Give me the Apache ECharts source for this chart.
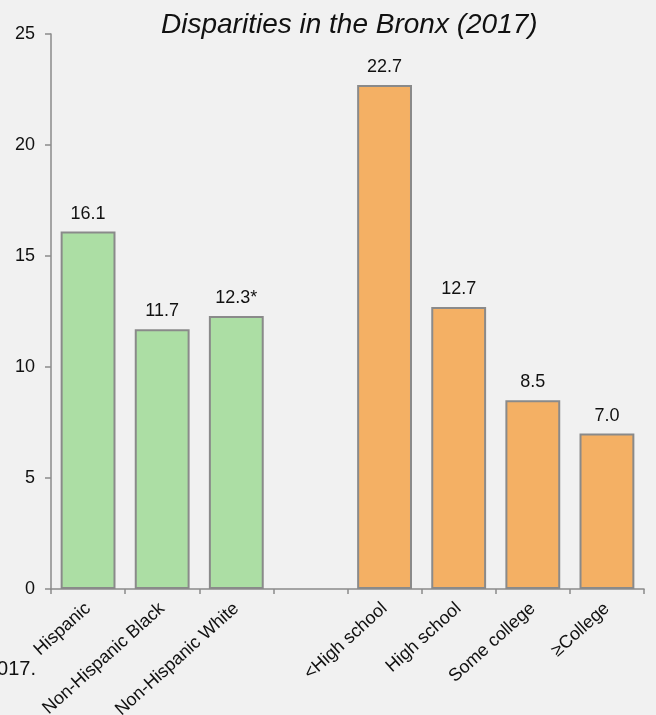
<!DOCTYPE html>
<html>
<head>
<meta charset="utf-8">
<script src="https://cdn.jsdelivr.net/npm/echarts@6/dist/echarts.min.js"></script>
<style>
html,body{margin:0;padding:0;background:#f1f1f1;}
#c{width:656px;height:715px;}
</style>
</head>
<body>
<div id="c"></div>
<script>
const categories = ['Hispanic', 'Non-Hispanic Black', 'Non-Hispanic White', '', '<High school', 'High school', 'Some college', '\u2265College'];
const values = [16.1, 11.7, 12.3, null, 22.7, 12.7, 8.5, 7.0];
const valueLabels = ['16.1', '11.7', '12.3*', '', '22.7', '12.7', '8.5', '7.0'];
const groups = ['race', 'race', 'race', '', 'edu', 'edu', 'edu', 'edu'];
const yTicks = [0, 5, 10, 15, 20, 25];
const titleText = 'Disparities in the Bronx (2017)';
const footText = '2017.';

const groupColors = { race: '#acdea4', edu: '#f4b064' };

const chart = echarts.init(document.getElementById('c'), null, { renderer: 'canvas' });
const font = 'Liberation Sans, Arial, sans-serif';

chart.setOption({
  backgroundColor: '#f1f1f1',
  animation: false,
  textStyle: { fontFamily: font },
  grid: { left: 51, right: 12, top: 34, bottom: 126, containLabel: false, outerBoundsMode: 'none' },
  graphic: [
    {
      type: 'text', left: 161, top: 11,
      style: { text: titleText, font: 'italic 28px ' + font, fill: '#111' }
    },
    {
      type: 'text', right: 620, top: 659,
      style: { text: footText, font: '20px ' + font, fill: '#111' }
    }
  ],
  xAxis: {
    type: 'category',
    data: categories,
    axisLine: { lineStyle: { color: '#8a8a8a', width: 1.5 } },
    axisTick: { show: true, length: 5, lineStyle: { color: '#8a8a8a', width: 1.5 } },
    axisLabel: { rotate: 42, interval: 0, margin: 17, fontSize: 18, color: '#111', fontFamily: font }
  },
  yAxis: {
    type: 'value',
    min: yTicks[0], max: yTicks[yTicks.length - 1], interval: 5,
    splitLine: { show: false },
    axisLine: { show: true, lineStyle: { color: '#8a8a8a', width: 1.5 } },
    axisTick: { show: true, length: 6, lineStyle: { color: '#8a8a8a', width: 1.5 } },
    axisLabel: { margin: 16, fontSize: 18, color: '#111', fontFamily: font }
  },
  series: [{
    type: 'bar',
    barCategoryGap: '26%',
    data: values.map((v, i) => ({
      value: v,
      itemStyle: { color: groupColors[groups[i]] || 'transparent', borderColor: '#8a8a8a', borderWidth: 2 }
    })),
    label: {
      show: true, position: 'top', distance: 9,
      fontSize: 18, color: '#111', fontFamily: font,
      formatter: p => valueLabels[p.dataIndex]
    }
  }]
});
</script>
</body>
</html>
